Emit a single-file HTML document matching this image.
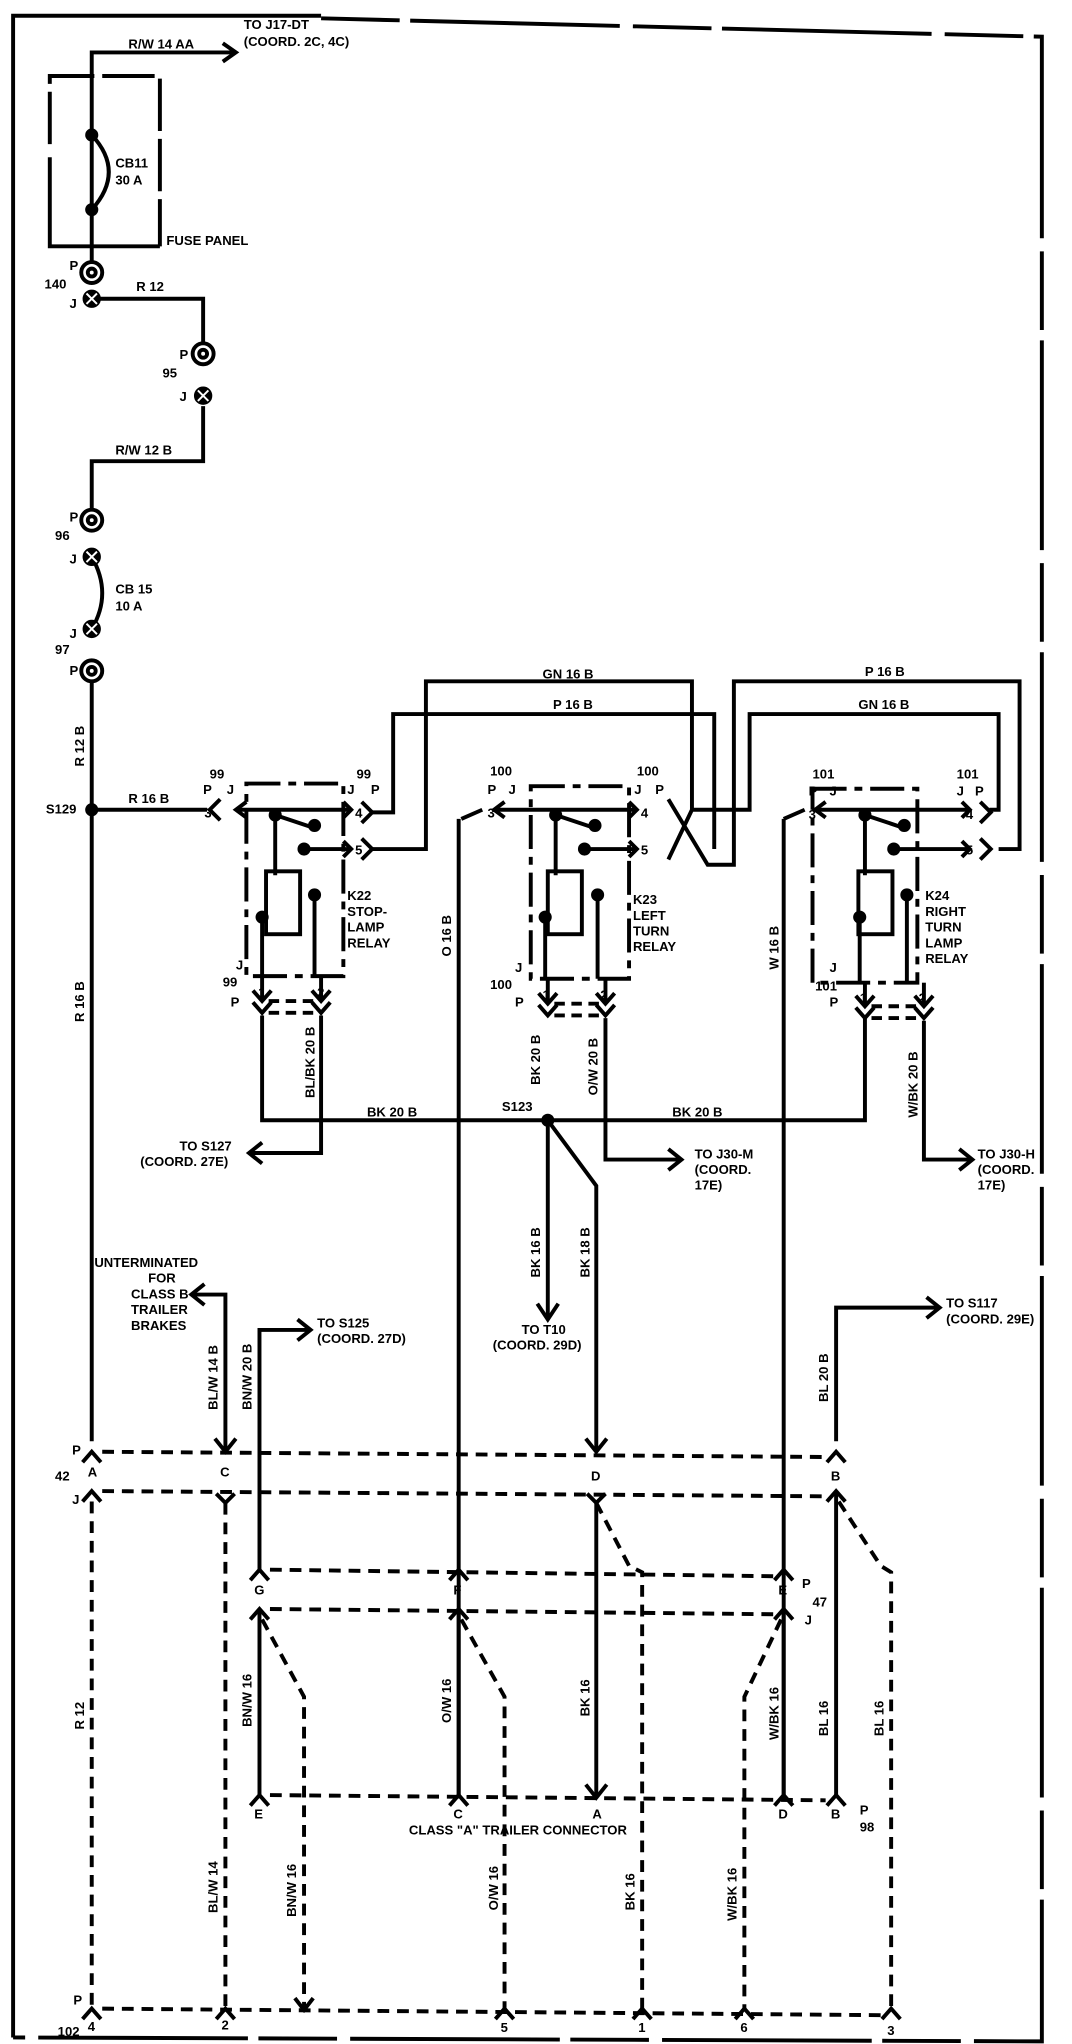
<!DOCTYPE html>
<html><head><meta charset="utf-8"><style>
html,body{margin:0;padding:0;background:#fff}
svg{display:block}
text{font-family:"Liberation Sans Narrow","Liberation Sans",sans-serif;font-weight:bold;font-size:10px;fill:#000}
</style></head><body>
<svg width="1072" height="2044" viewBox="0 0 818 1560" preserveAspectRatio="none" xmlns="http://www.w3.org/2000/svg">
<g fill="none" stroke="#000" stroke-width="3">
<path d="M10 1555 L10 12 L245 12"/>
<path d="M245 14 L795 28 L795 1558 L10 1555" stroke-dasharray="60 8 160 10"/>
<path d="M70 208 L70 40 L178 40"/><path d="M170 33 L180 40 L170 47"/>
<path d="M122 188 L38 188 L38 120"/><path d="M38 110 L38 58 L122 58 L122 188" stroke-dasharray="40 6"/>
<path d="M70 103 Q96 131 70 160"/>
<path d="M70 228 L155 228 L155 262"/><path d="M155 310 L155 352 L70 352 L70 390"/>
<path d="M70 425 Q86 453 70 480"/>
<path d="M70 520 L70 1100"/>
<path d="M70 618 L158 618"/><path d="M168 610 L160 618 L168 626"/>
<path d="M188 598 L262 598 L262 745 L188 745 Z" stroke-dasharray="26 6 6 6"/>
<path d="M180 618 L268 618"/><path d="M188 612 L180 618 L188 624"/><path d="M262 612 L268 618 L262 624"/>
<path d="M210 622 L240 632"/><path d="M232 648 L268 648"/><path d="M262 642 L268 648 L262 654"/>
<path d="M210 622 L210 668"/>
<rect x="203" y="665" width="26" height="48"/>
<path d="M240 683 L240 745"/><path d="M200 700 L200 745"/>
<path d="M276 612 L284 620 L276 628"/><path d="M276 640 L284 648 L276 656"/>
<path d="M200 745 L200 764"/><path d="M193 756 L200 764 L207 756"/><path d="M245 745 L245 764"/><path d="M238 756 L245 764 L252 756"/>
<path d="M193 765 L200 773 L207 765"/><path d="M238 765 L245 773 L252 765"/>
<path d="M205 764 L240 764 M205 773 L240 773" stroke-dasharray="8 5"/>
<path d="M284 620 L300 620 L300 545 L545 545 L545 648"/>
<path d="M284 648 L325 648 L325 520 L528 520 L528 618"/>
<path d="M405 600 L480 600 L480 747 L405 747 Z" stroke-dasharray="26 6 6 6"/>
<path d="M352 625 L368 618"/><path d="M385 612 L377 618 L385 624"/><path d="M377 618 L486 618"/><path d="M480 612 L486 618 L480 624"/>
<path d="M424 622 L454 632"/><path d="M446 648 L486 648"/><path d="M480 642 L486 648 L480 654"/>
<path d="M424 622 L424 668"/>
<rect x="418" y="665" width="26" height="48"/>
<path d="M456 683 L456 747"/><path d="M416 700 L416 747"/>
<path d="M418 747 L418 766"/><path d="M411 758 L418 766 L425 758"/><path d="M462 747 L462 766"/><path d="M455 758 L462 766 L469 758"/>
<path d="M411 767 L418 775 L425 767"/><path d="M455 767 L462 775 L469 767"/>
<path d="M423 766 L457 766 M423 775 L457 775" stroke-dasharray="8 5"/>
<path d="M510 610 L540 660 L560 660 L560 520 L778 520 L778 648 L762 648"/>
<path d="M510 656 L528 618 L572 618 L572 545 L762 545 L762 618 L755 618"/>
<path d="M620 602 L700 602 L700 750 L620 750 Z" stroke-dasharray="26 6 6 6"/>
<path d="M598 625 L614 618"/><path d="M630 612 L622 618 L630 624"/><path d="M622 618 L740 618"/><path d="M734 612 L740 618 L734 624"/>
<path d="M660 622 L690 632"/><path d="M682 648 L740 648"/><path d="M734 642 L740 648 L734 654"/>
<path d="M660 622 L660 668"/>
<rect x="655" y="665" width="26" height="48"/>
<path d="M692 683 L692 750"/><path d="M656 700 L656 750"/>
<path d="M748 612 L756 620 L748 628"/><path d="M748 640 L756 648 L748 656"/>
<path d="M660 750 L660 768"/><path d="M653 760 L660 768 L667 760"/><path d="M705 750 L705 768"/><path d="M698 760 L705 768 L712 760"/>
<path d="M653 769 L660 777 L667 769"/><path d="M698 769 L705 777 L712 769"/>
<path d="M665 768 L700 768 M665 777 L700 777" stroke-dasharray="8 5"/>
<path d="M200 775 L200 855 L660 855 L660 777"/>
<path d="M245 775 L245 880 L192 880"/><path d="M200 872 L190 880 L200 888"/>
<path d="M462 777 L462 885 L518 885"/><path d="M510 877 L520 885 L510 893"/>
<path d="M705 779 L705 885 L740 885"/><path d="M732 877 L742 885 L732 893"/>
<path d="M418 855 L418 1005"/><path d="M410 995 L418 1007 L426 995"/>
<path d="M418 855 L455 905 L455 1108"/><path d="M447 1098 L455 1108 L463 1098"/>
<path d="M350 625 L350 1370"/>
<path d="M598 625 L598 1370"/>
<path d="M172 1108 L172 988 L148 988"/><path d="M156 980 L146 988 L156 996"/><path d="M164 1098 L172 1108 L180 1098"/>
<path d="M198 1200 L198 1015 L235 1015"/><path d="M227 1007 L237 1015 L227 1023"/>
<path d="M638 1100 L638 998 L715 998"/><path d="M707 990 L717 998 L707 1006"/>
<path d="M63 1116 L70 1108 L77 1116 M631 1116 L638 1108 L645 1116"/>
<path d="M63 1146 L70 1138 L77 1146 M631 1146 L638 1138 L645 1146"/>
<path d="M165 1140 L172 1147 L179 1140 M448 1140 L455 1147 L462 1140"/>
<path d="M191 1206 L198 1198 L205 1206 M343 1206 L350 1198 L357 1206 M591 1206 L598 1198 L605 1206"/>
<path d="M191 1236 L198 1228 L205 1236 M343 1236 L350 1228 L357 1236 M591 1236 L598 1228 L605 1236"/>
<path d="M191 1378 L198 1370 L205 1378 M343 1378 L350 1370 L357 1378 M591 1378 L598 1370 L605 1378 M631 1378 L638 1370 L645 1378"/>
<path d="M447 1362 L455 1372 L463 1362"/>
<path d="M63 1541 L70 1533 L77 1541 M165 1541 L172 1533 L179 1541 M378 1541 L385 1533 L392 1541 M483 1541 L490 1533 L497 1541 M561 1541 L568 1533 L575 1541 M673 1541 L680 1533 L687 1541"/>
<path d="M225 1525 L232 1534 L239 1525"/>
<path d="M198 1228 L198 1370 M350 1228 L350 1370 M455 1147 L455 1370 M598 1228 L598 1370 M638 1138 L638 1370"/>
<g stroke-dasharray="9 6">
<path d="M78 1108 L630 1112 M78 1138 L630 1142"/>
<path d="M206 1198 L590 1203 M206 1228 L590 1232"/>
<path d="M206 1370 L630 1374"/>
<path d="M78 1533 L672 1538"/>
<path d="M70 1146 L70 1533 M172 1147 L172 1533"/>
<path d="M455 1147 L480 1195 L490 1200 L490 1533"/>
<path d="M640 1146 L672 1195 L680 1200 L680 1533"/>
<path d="M200 1236 L232 1295 L232 1533"/>
<path d="M352 1236 L385 1295 L385 1533"/>
<path d="M596 1236 L568 1295 L568 1533"/>
</g>
</g>
<g fill="#000">
<circle cx="70" cy="103" r="5"/><circle cx="70" cy="160" r="5"/>
<circle cx="70" cy="618" r="5"/><circle cx="418" cy="855" r="5"/>
<circle cx="210" cy="622" r="5"/><circle cx="240" cy="630" r="5"/><circle cx="232" cy="648" r="5"/><circle cx="240" cy="683" r="5"/><circle cx="200" cy="700" r="5"/>
<circle cx="424" cy="622" r="5"/><circle cx="454" cy="630" r="5"/><circle cx="446" cy="648" r="5"/><circle cx="456" cy="683" r="5"/><circle cx="416" cy="700" r="5"/>
<circle cx="660" cy="622" r="5"/><circle cx="690" cy="630" r="5"/><circle cx="682" cy="648" r="5"/><circle cx="692" cy="683" r="5"/><circle cx="656" cy="700" r="5"/>
</g>
<g fill="#fff" stroke="#000" stroke-width="3">
<circle cx="70" cy="208" r="8"/><circle cx="70" cy="208" r="3"/>
<circle cx="155" cy="270" r="8"/><circle cx="155" cy="270" r="3"/>
<circle cx="70" cy="397" r="8"/><circle cx="70" cy="397" r="3"/>
<circle cx="70" cy="512" r="8"/><circle cx="70" cy="512" r="3"/>
</g>
<g fill="#000" stroke="#000" stroke-width="2">
<circle cx="70" cy="228" r="6"/><circle cx="155" cy="302" r="6"/><circle cx="70" cy="425" r="6"/><circle cx="70" cy="480" r="6"/>
</g>
<g stroke="#fff" stroke-width="1.5">
<path d="M66 224 L74 232 M74 224 L66 232 M151 298 L159 306 M159 298 L151 306 M66 421 L74 429 M74 421 L66 429 M66 476 L74 484 M74 476 L66 484"/>
</g>
<text x="98" y="37">R/W 14 AA</text>
<text x="186" y="22">TO J17-DT</text><text x="186" y="35">(COORD. 2C, 4C)</text>
<text x="88" y="128">CB11</text><text x="88" y="141">30 A</text>
<text x="127" y="187">FUSE PANEL</text>
<text x="53" y="206">P</text><text x="34" y="220">140</text><text x="53" y="235">J</text>
<text x="104" y="222">R 12</text>
<text x="137" y="274">P</text><text x="124" y="288">95</text><text x="137" y="306">J</text>
<text x="88" y="347">R/W 12 B</text>
<text x="53" y="398">P</text><text x="42" y="412">96</text><text x="53" y="430">J</text>
<text x="88" y="453">CB 15</text><text x="88" y="466">10 A</text>
<text x="53" y="487">J</text><text x="42" y="499">97</text><text x="53" y="515">P</text>
<text x="414" y="518">GN 16 B</text><text x="422" y="541">P 16 B</text>
<text x="660" y="516">P 16 B</text><text x="655" y="541">GN 16 B</text>
<text x="35" y="621">S129</text><text x="98" y="613">R 16 B</text>
<text x="160" y="594">99</text><text x="155" y="606">P</text><text x="173" y="606">J</text><text x="156" y="624">3</text>
<text x="272" y="594">99</text><text x="265" y="606">J</text><text x="283" y="606">P</text><text x="271" y="624">4</text><text x="271" y="652">5</text>
<text x="265" y="687">K22</text><text x="265" y="699">STOP-</text><text x="265" y="711">LAMP</text><text x="265" y="723">RELAY</text>
<text x="180" y="740">J</text><text x="170" y="753">99</text><text x="176" y="768">P</text><text x="197" y="761">1</text><text x="242" y="761">2</text>
<text x="374" y="592">100</text><text x="372" y="606">P</text><text x="388" y="606">J</text><text x="372" y="624">3</text>
<text x="486" y="592">100</text><text x="484" y="606">J</text><text x="500" y="606">P</text><text x="489" y="624">4</text><text x="489" y="652">5</text>
<text x="483" y="690">K23</text><text x="483" y="702">LEFT</text><text x="483" y="714">TURN</text><text x="483" y="726">RELAY</text>
<text x="393" y="742">J</text><text x="374" y="755">100</text><text x="393" y="768">P</text><text x="414" y="763">1</text><text x="458" y="763">2</text>
<text x="620" y="594">101</text><text x="617" y="607">P</text><text x="633" y="607">J</text><text x="617" y="625">3</text>
<text x="730" y="594">101</text><text x="730" y="607">J</text><text x="744" y="607">P</text><text x="737" y="625">4</text><text x="737" y="652">5</text>
<text x="706" y="687">K24</text><text x="706" y="699">RIGHT</text><text x="706" y="711">TURN</text><text x="706" y="723">LAMP</text><text x="706" y="735">RELAY</text>
<text x="633" y="742">J</text><text x="622" y="756">101</text><text x="633" y="768">P</text><text x="656" y="765">1</text><text x="701" y="765">2</text>
<text x="280" y="852">BK 20 B</text><text x="383" y="848">S123</text><text x="513" y="852">BK 20 B</text>
<text x="137" y="878">TO S127</text><text x="107" y="890">(COORD. 27E)</text>
<text x="530" y="884">TO J30-M</text><text x="530" y="896">(COORD.</text><text x="530" y="908">17E)</text>
<text x="746" y="884">TO J30-H</text><text x="746" y="896">(COORD.</text><text x="746" y="908">17E)</text>
<text x="72" y="967">UNTERMINATED</text><text x="113" y="979">FOR</text><text x="100" y="991">CLASS B</text><text x="100" y="1003">TRAILER</text><text x="100" y="1015">BRAKES</text>
<text x="242" y="1013">TO S125</text><text x="242" y="1025">(COORD. 27D)</text>
<text x="398" y="1018">TO T10</text><text x="376" y="1030">(COORD. 29D)</text>
<text x="722" y="998">TO S117</text><text x="722" y="1010">(COORD. 29E)</text>
<text x="55" y="1110">P</text><text x="42" y="1130">42</text><text x="55" y="1148">J</text>
<text x="67" y="1127">A</text><text x="168" y="1127">C</text><text x="451" y="1130">D</text><text x="634" y="1130">B</text>
<text x="194" y="1217">G</text><text x="346" y="1217">F</text><text x="594" y="1217">E</text>
<text x="612" y="1212">P</text><text x="620" y="1226">47</text><text x="614" y="1240">J</text>
<text x="194" y="1388">E</text><text x="346" y="1388">C</text><text x="452" y="1388">A</text><text x="594" y="1388">D</text><text x="634" y="1388">B</text>
<text x="656" y="1385">P</text><text x="656" y="1398">98</text>
<text x="312" y="1400">CLASS "A" TRAILER CONNECTOR</text>
<text x="56" y="1530">P</text><text x="44" y="1554">102</text>
<text x="67" y="1550">4</text><text x="169" y="1549">2</text><text x="382" y="1551">5</text><text x="487" y="1551">1</text><text x="565" y="1551">6</text><text x="677" y="1553">3</text>
<g>
<text transform="translate(64,585) rotate(-90)">R 12 B</text>
<text transform="translate(64,780) rotate(-90)">R 16 B</text>
<text transform="translate(344,730) rotate(-90)">O 16 B</text>
<text transform="translate(594,740) rotate(-90)">W 16 B</text>
<text transform="translate(240,838) rotate(-90)">BL/BK 20 B</text>
<text transform="translate(412,828) rotate(-90)">BK 20 B</text>
<text transform="translate(456,836) rotate(-90)">O/W 20 B</text>
<text transform="translate(700,853) rotate(-90)">W/BK 20 B</text>
<text transform="translate(412,975) rotate(-90)">BK 16 B</text>
<text transform="translate(450,975) rotate(-90)">BK 18 B</text>
<text transform="translate(166,1076) rotate(-90)">BL/W 14 B</text>
<text transform="translate(192,1076) rotate(-90)">BN/W 20 B</text>
<text transform="translate(632,1070) rotate(-90)">BL 20 B</text>
<text transform="translate(64,1320) rotate(-90)">R 12</text>
<text transform="translate(192,1318) rotate(-90)">BN/W 16</text>
<text transform="translate(344,1315) rotate(-90)">O/W 16</text>
<text transform="translate(450,1310) rotate(-90)">BK 16</text>
<text transform="translate(594,1328) rotate(-90)">W/BK 16</text>
<text transform="translate(632,1325) rotate(-90)">BL 16</text>
<text transform="translate(674,1325) rotate(-90)">BL 16</text>
<text transform="translate(166,1460) rotate(-90)">BL/W 14</text>
<text transform="translate(226,1463) rotate(-90)">BN/W 16</text>
<text transform="translate(380,1458) rotate(-90)">O/W 16</text>
<text transform="translate(484,1458) rotate(-90)">BK 16</text>
<text transform="translate(562,1466) rotate(-90)">W/BK 16</text>
</g>
</svg>
</body></html>
